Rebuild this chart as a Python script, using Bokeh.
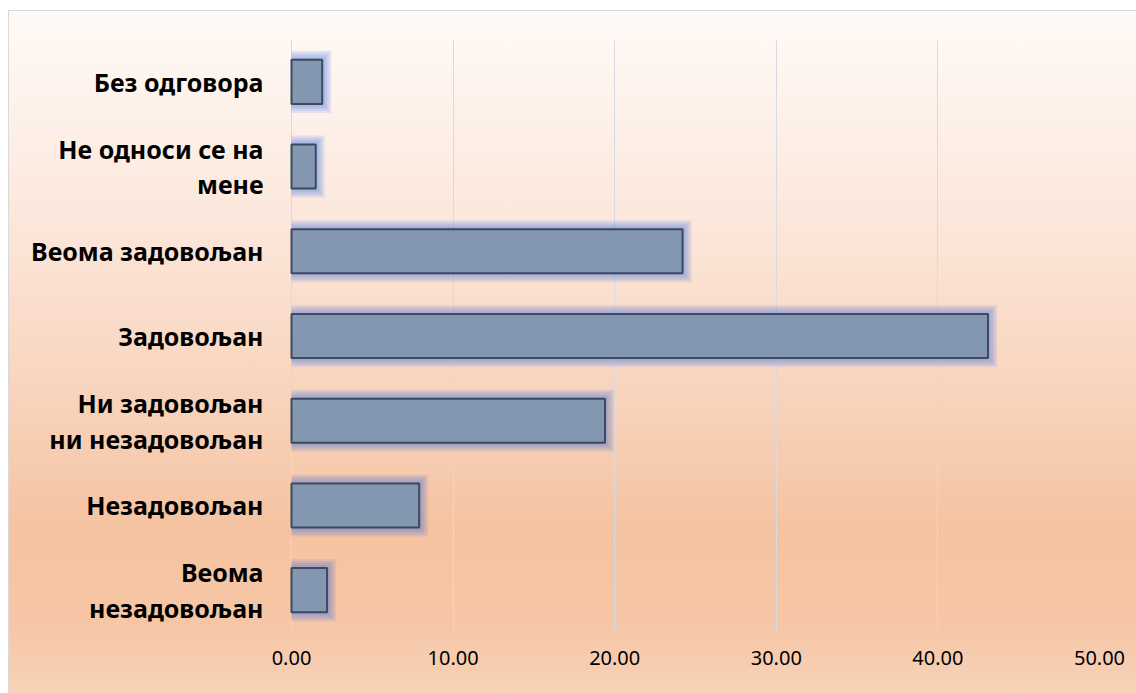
from bokeh.plotting import figure
from bokeh.models import (FactorRange, Range1d, FixedTicker, NumeralTickFormatter,
                          InlineStyleSheet, ColumnDataSource)
from bokeh.core.properties import value
from bokeh.embed import file_html
from bokeh.resources import INLINE

# data (top to bottom as in the picture)
categories = ["Без одговора", "Не односи се на мене", "Веома задовољан", "Задовољан",
              "Ни задовољан ни незадовољан", "Незадовољан", "Веома незадовољан"]
label_text = ["Без одговора", "Не односи се на\nмене", "Веома задовољан", "Задовољан",
              "Ни задовољан\nни незадовољан", "Незадовољан", "Веома\nнезадовољан"]
values = [1.9, 1.5, 24.2, 43.1, 19.4, 7.9, 2.2]
x_ticks = [0, 10, 20, 30, 40, 50]

factors = list(reversed(categories))
src = ColumnDataSource(dict(cat=categories, val=values, lab=label_text, zero=[0] * len(values)))

W, H = 1136, 693
zero_px, right_px, top_px, bottom_px = 291, 1099, 39, 632
x_max = 50
px_per_unit = (right_px - zero_px) / x_max
x_min = -zero_px / px_per_unit
band_px = (bottom_px - top_px) / len(categories)
bar_h = 0.52

p = figure(width=W, height=H, output_backend="svg", toolbar_location=None,
           y_range=FactorRange(factors=factors, range_padding=0),
           x_range=Range1d(x_min, x_max),
           min_border_left=0, min_border_right=W - right_px,
           min_border_top=top_px, min_border_bottom=H - bottom_px)

p.background_fill_color = None
p.border_fill_color = None
p.outline_line_color = None
p.stylesheets = [InlineStyleSheet(css=""":host {
  background:
    linear-gradient(#d9d9d9, #d9d9d9) 8px 10px / 1128px 1px no-repeat,
    linear-gradient(#d9d9d9, #d9d9d9) 8px 10px / 1px 683px no-repeat,
    linear-gradient(to bottom, #fffaf7 0%, #fce9de 28%, #f9d7c2 52%, #f5c3a1 76%, #f6c6a6 90%, #f8d2b8 100%) 8px 10px / 1128px 683px no-repeat,
    #ffffff;
}""")]

# soft blue glow around each bar (stacked translucent fills, starting at the axis)
for pad in (9, 7, 5, 3, 1):
    right_glow = [v + pad / px_per_unit for v in values]
    p.hbar(y=categories, right=right_glow, left=0, height=bar_h + 2 * pad / band_px,
           fill_color="#3d6ae6", fill_alpha=0.12, line_alpha=0)

# bars
p.hbar(y="cat", right="val", left=0, height=bar_h, source=src,
       fill_color="#8497b0", line_color="#3b4a5e", line_width=2)

# category labels (multi-line)
p.text(x="zero", y="cat", text="lab", source=src, x_offset=-28,
       text_align="right", text_baseline="middle",
       text_font=value("Noto Sans"), text_font_style="bold", text_font_size="25px",
       text_color="#000000", text_line_height=1.05)

p.xaxis.ticker = FixedTicker(ticks=x_ticks)
p.xaxis.formatter = NumeralTickFormatter(format="0.00")
p.xaxis.axis_line_color = None
p.xaxis.major_tick_line_color = None
p.xaxis.minor_tick_line_color = None
p.xaxis.major_label_text_font = "Noto Sans"
p.xaxis.major_label_text_font_size = "20px"
p.xaxis.major_label_text_color = "#000000"
p.xaxis.major_label_standoff = 12

p.yaxis.visible = False

p.xgrid.grid_line_color = "#d6dae2"
p.xgrid.grid_line_width = 1
p.ygrid.grid_line_color = None

open("out.html", "w").write(file_html(p, INLINE))
